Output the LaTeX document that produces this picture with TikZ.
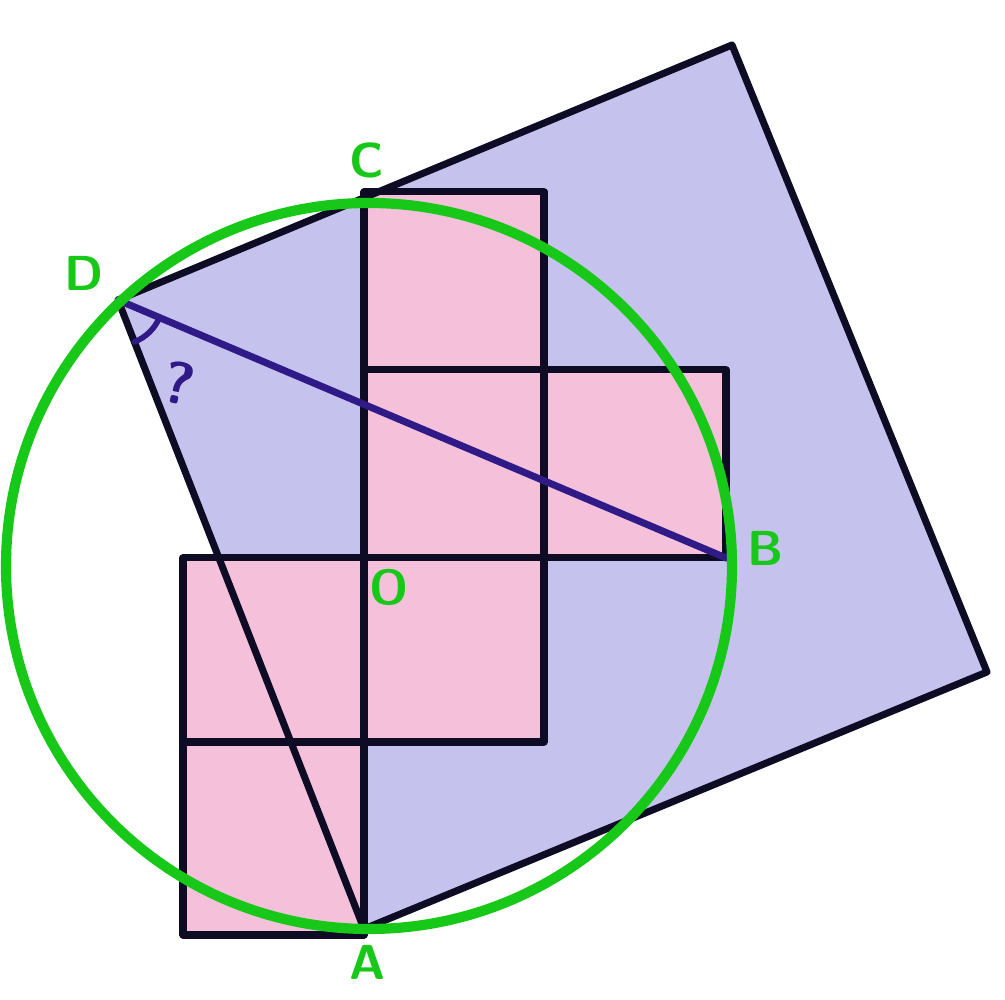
\documentclass[tikz,border=0pt]{standalone}
\usepackage{tikz}
\usetikzlibrary{%
  calc,
  positioning,
  arrows.meta
}
\definecolor{lavande}{RGB}{198,194,238}
\definecolor{rose}{RGB}{244,192,218}
\definecolor{vert}{RGB}{24,200,24}
\definecolor{encre}{RGB}{48,26,135}
\definecolor{trait}{RGB}{14,12,36}

\begin{document}
\begin{tikzpicture}[
  line join=round,
  line cap=round,
  bord/.style={draw=trait, line width=2pt},
  corde/.style={draw=encre, line width=2pt},
  cercle/.style={draw=vert, line width=2.9pt},
  etiquette/.style={text=vert, font=\sffamily\bfseries\fontsize{14}{14}\selectfont,
                    inner sep=0pt},
]
  \useasboundingbox ( 0.0, 0.0) rectangle (10.05,10.0) ;

  % sommets du grand carre
  \coordinate (D) at ( 1.18, 7.00) ;
  \coordinate (T) at ( 7.32, 9.55) ;
  \coordinate (R) at ( 9.87, 3.28) ;
  \coordinate (A) at ( 3.64, 0.71) ;

  % quadrillage des petits carres
  \coordinate (C) at ( 3.64, 8.08) ;
  \coordinate (O) at ( 3.64, 4.42) ;
  \coordinate (B) at ( 7.26, 4.42) ;
  \coordinate (centre) at ( 3.69, 4.34) ;

  % grand carre
  \fill [lavande] (D) -- (T) -- (R) -- (A) -- cycle ;

  % petits carres
  \fill [rose]
        ( 3.64, 8.08) -- ( 5.44, 8.08) -- ( 5.44, 6.30) -- ( 7.26, 6.30)
        -- (B) -- ( 5.44, 4.42) -- ( 5.44, 2.58) -- ( 3.64, 2.58)
        -- ( 3.64, 0.65) -- ( 1.83, 0.65) -- ( 1.83, 4.42) -- (O) -- cycle ;

  \begin{scope}[bord]
    \draw (C) -- ( 5.44, 8.08) -- ( 5.44, 2.58) ;
    \draw ( 3.64, 6.30) -- ( 7.26, 6.30) -- (B) ;
    \draw ( 1.83, 0.65) -- ( 1.83, 4.42) -- (B) ;
    \draw ( 1.83, 2.58) -- ( 5.44, 2.58) ;
    \draw (C) -- ( 3.64, 0.65) -- ( 1.83, 0.65) ;
    % contour du grand carre
    \draw (D) -- (T) -- (R) -- (A) -- cycle ;
  \end{scope}

  % la corde DB et l'angle
  \draw [corde] (D) -- (B) ;
  \draw [corde, line width=1.6pt]
        ($(D)!0.45cm!(A)$) arc [start angle=-68.7, end angle=-23.0, radius=0.45cm] ;
  \node (question) [text=encre, font=\sffamily\bfseries\fontsize{17}{17}\selectfont,
                    rotate=-12]
        at ( 1.79, 6.17) {?} ;

  % le cercle
  \draw [cercle] (centre) circle [radius=3.63] ;

  % les lettres
  \node (lA) [etiquette] at ( 3.68, 0.38) {A} ;
  \node (lB) [etiquette] at ( 7.66, 4.52) {B} ;
  \node (lC) [etiquette] at ( 3.67, 8.40) {C} ;
  \node (lD) [etiquette] at ( 0.84, 7.27) {D} ;
  \node (lO) [etiquette] at ( 3.89, 4.13) {O} ;
\end{tikzpicture}
\end{document}
